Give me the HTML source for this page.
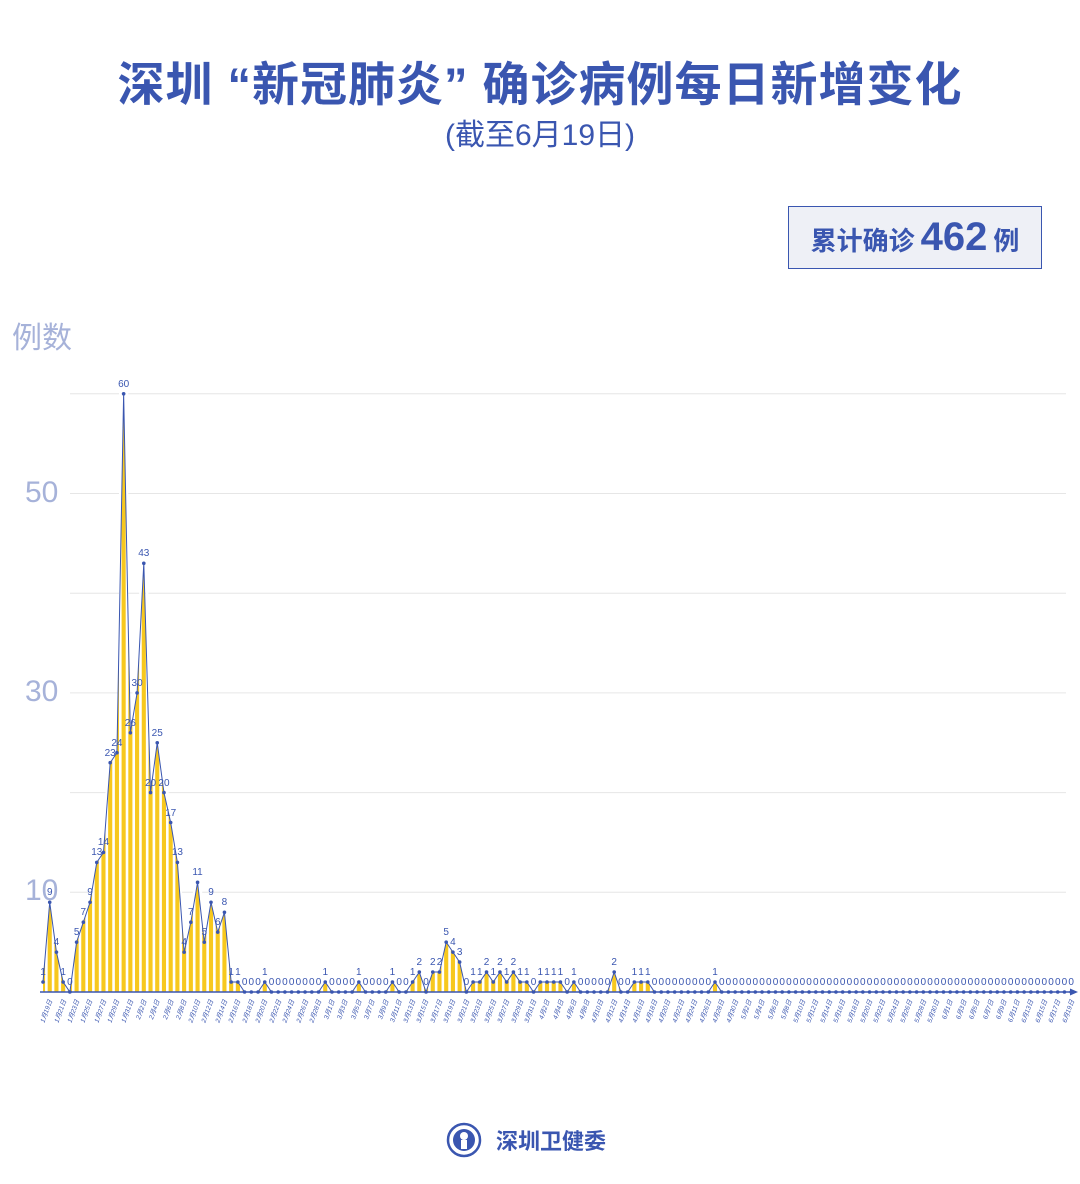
<!DOCTYPE html>
<html><head><meta charset="utf-8">
<style>
body{margin:0;width:1080px;height:1184px;background:#fff;position:relative;overflow:hidden;font-family:"Liberation Sans","Noto Sans CJK SC",sans-serif}
.title{position:absolute;top:46px;left:0;width:1080px;text-align:center;font-size:47px;font-weight:bold;color:#3a56b0;letter-spacing:1px;white-space:nowrap}
.sub{position:absolute;top:110px;left:0;width:1080px;text-align:center;font-size:30px;color:#3a56b0}
.box{position:absolute;left:788px;top:206px;width:254px;height:63px;border:1.5px solid #3a56b0;background:#eef0f6;box-sizing:border-box;color:#3a56b0;font-weight:bold;font-size:26px;line-height:61px;text-align:center}
.box b{font-size:40px;margin:0 6px}
.yl{position:absolute;color:#a6b2d9;font-size:30px;z-index:2}
#vals span{position:absolute;font-size:10px;color:#3a56b0;transform:translateX(-50%);line-height:10px;white-space:nowrap}
#dates span{position:absolute;font-size:6.5px;color:#3a56b0;white-space:nowrap;transform-origin:right top;transform:rotate(-70deg);font-style:italic}
.foot{position:absolute;top:1124px;left:496px;font-size:22px;color:#3a56b0;font-weight:bold}
</style></head><body>
<div class="title">深圳 “新冠肺炎” 确诊病例每日新增变化</div>
<div class="sub">(截至6月19日)</div>
<div class="box">累计确诊<b>462</b>例</div>
<svg id="sv" width="1080" height="1184" style="position:absolute;left:0;top:0"></svg>
<div class="yl" style="left:12px;top:313px">例数</div>
<div class="yl" style="left:25px;top:476px">50</div>
<div class="yl" style="left:25px;top:675px">30</div>
<div class="yl" style="left:25px;top:874px">10</div>
<div id="vals"><span>1</span><span>9</span><span>4</span><span>1</span><span>0</span><span>5</span><span>7</span><span>9</span><span>13</span><span>14</span><span>23</span><span>24</span><span>60</span><span>26</span><span>30</span><span>43</span><span>20</span><span>25</span><span>20</span><span>17</span><span>13</span><span>4</span><span>7</span><span>11</span><span>5</span><span>9</span><span>6</span><span>8</span><span>1</span><span>1</span><span>0</span><span>0</span><span>0</span><span>1</span><span>0</span><span>0</span><span>0</span><span>0</span><span>0</span><span>0</span><span>0</span><span>0</span><span>1</span><span>0</span><span>0</span><span>0</span><span>0</span><span>1</span><span>0</span><span>0</span><span>0</span><span>0</span><span>1</span><span>0</span><span>0</span><span>1</span><span>2</span><span>0</span><span>2</span><span>2</span><span>5</span><span>4</span><span>3</span><span>0</span><span>1</span><span>1</span><span>2</span><span>1</span><span>2</span><span>1</span><span>2</span><span>1</span><span>1</span><span>0</span><span>1</span><span>1</span><span>1</span><span>1</span><span>0</span><span>1</span><span>0</span><span>0</span><span>0</span><span>0</span><span>0</span><span>2</span><span>0</span><span>0</span><span>1</span><span>1</span><span>1</span><span>0</span><span>0</span><span>0</span><span>0</span><span>0</span><span>0</span><span>0</span><span>0</span><span>0</span><span>1</span><span>0</span><span>0</span><span>0</span><span>0</span><span>0</span><span>0</span><span>0</span><span>0</span><span>0</span><span>0</span><span>0</span><span>0</span><span>0</span><span>0</span><span>0</span><span>0</span><span>0</span><span>0</span><span>0</span><span>0</span><span>0</span><span>0</span><span>0</span><span>0</span><span>0</span><span>0</span><span>0</span><span>0</span><span>0</span><span>0</span><span>0</span><span>0</span><span>0</span><span>0</span><span>0</span><span>0</span><span>0</span><span>0</span><span>0</span><span>0</span><span>0</span><span>0</span><span>0</span><span>0</span><span>0</span><span>0</span><span>0</span><span>0</span><span>0</span><span>0</span><span>0</span><span>0</span><span>0</span></div>
<div id="dates"><span>1月19日</span><span>1月21日</span><span>1月23日</span><span>1月25日</span><span>1月27日</span><span>1月29日</span><span>1月31日</span><span>2月2日</span><span>2月4日</span><span>2月6日</span><span>2月8日</span><span>2月10日</span><span>2月12日</span><span>2月14日</span><span>2月16日</span><span>2月18日</span><span>2月20日</span><span>2月22日</span><span>2月24日</span><span>2月26日</span><span>2月28日</span><span>3月1日</span><span>3月3日</span><span>3月5日</span><span>3月7日</span><span>3月9日</span><span>3月11日</span><span>3月13日</span><span>3月15日</span><span>3月17日</span><span>3月19日</span><span>3月21日</span><span>3月23日</span><span>3月25日</span><span>3月27日</span><span>3月29日</span><span>3月31日</span><span>4月2日</span><span>4月4日</span><span>4月6日</span><span>4月8日</span><span>4月10日</span><span>4月12日</span><span>4月14日</span><span>4月16日</span><span>4月18日</span><span>4月20日</span><span>4月22日</span><span>4月24日</span><span>4月26日</span><span>4月28日</span><span>4月30日</span><span>5月2日</span><span>5月4日</span><span>5月6日</span><span>5月8日</span><span>5月10日</span><span>5月12日</span><span>5月14日</span><span>5月16日</span><span>5月18日</span><span>5月20日</span><span>5月22日</span><span>5月24日</span><span>5月26日</span><span>5月28日</span><span>5月30日</span><span>6月1日</span><span>6月3日</span><span>6月5日</span><span>6月7日</span><span>6月9日</span><span>6月11日</span><span>6月13日</span><span>6月15日</span><span>6月17日</span><span>6月19日</span></div>
<svg style="position:absolute;left:446px;top:1122px" width="36" height="36" viewBox="0 0 36 36"><circle cx="18" cy="18" r="16" fill="#fff" stroke="#3a56b0" stroke-width="2.5"/><circle cx="18" cy="18" r="11" fill="#3a56b0"/><circle cx="18" cy="14" r="4" fill="#fff"/><rect x="15" y="18" width="6" height="9" fill="#fff"/></svg>
<div class="foot">深圳卫健委</div>
<script>
var x0=43,dx=6.72,base=992,k=9.97;
var vs=[].slice.call(document.querySelectorAll('#vals span'));
var v=vs.map(function(s){return +s.textContent});
var sv=document.getElementById('sv'),h='';
[10,20,30,40,50,60].forEach(function(g){var y=base-k*g;h+='<line x1="70" x2="1066" y1="'+y+'" y2="'+y+'" stroke="#e6e6e6" stroke-width="1"/>';});
var pts=[];
v.forEach(function(val,i){var x=x0+dx*i,y=base-k*val;pts.push(x+','+y);});
h+='<polygon points="'+x0+','+base+' '+pts.join(' ')+' '+(x0+dx*(v.length-1))+','+base+'" fill="#f7c81e"/>';
for(var i=0;i<v.length-1;i++){var m=Math.max(v[i],v[i+1]);if(!m)continue;var xm=x0+dx*(i+0.5);h+='<line x1="'+xm+'" x2="'+xm+'" y1="'+(base-k*m-1)+'" y2="'+base+'" stroke="#fff" stroke-width="2.6"/>';}
h+='<line x1="40" x2="1074" y1="'+base+'" y2="'+base+'" stroke="#3a56b0" stroke-width="1.5"/><polygon points="1078,992 1070,988.5 1070,995.5" fill="#3a56b0"/>';
h+='<polyline points="'+pts.join(' ')+'" fill="none" stroke="#3a56b0" stroke-width="1"/>';
v.forEach(function(val,i){var x=x0+dx*i,y=base-k*val;h+='<circle cx="'+x+'" cy="'+y+'" r="1.8" fill="#3a56b0"/>';});
sv.innerHTML=h;
vs.forEach(function(s,i){s.style.left=(x0+dx*i)+'px';s.style.top=(base-k*v[i]-14)+'px';});
[].slice.call(document.querySelectorAll('#dates span')).forEach(function(s,i){var x=x0+dx*2*i;s.style.right=(1080-x-2)+'px';s.style.top='998px';});
</script>
</body></html>
